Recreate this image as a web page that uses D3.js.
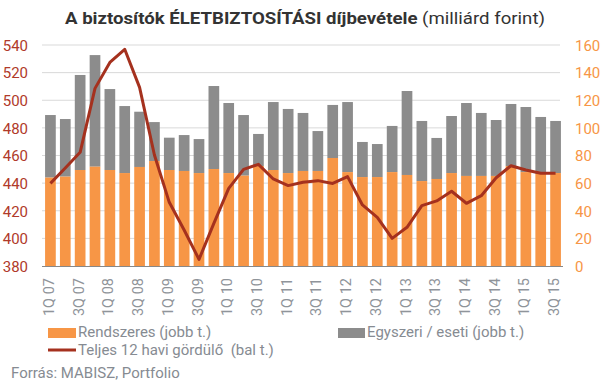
<!DOCTYPE html>
<html><head><meta charset="utf-8">
<script src="https://cdn.jsdelivr.net/npm/d3@7"></script>
<style>
body{margin:0;background:#fff;}
text{font-family:Roboto,"Liberation Sans",sans-serif;}
</style></head>
<body><svg id="c" width="607" height="383"></svg>
<script>
const quarters = ["1Q 07","2Q 07","3Q 07","4Q 07","1Q 08","2Q 08","3Q 08","4Q 08","1Q 09","2Q 09","3Q 09","4Q 09",
"1Q 10","2Q 10","3Q 10","4Q 10","1Q 11","2Q 11","3Q 11","4Q 11","1Q 12","2Q 12","3Q 12","4Q 12",
"1Q 13","2Q 13","3Q 13","4Q 13","1Q 14","2Q 14","3Q 14","4Q 14","1Q 15","2Q 15","3Q 15"];
const rendszeres = [64.0,64.7,69.5,71.9,69.5,67.3,71.7,76.0,69.5,68.8,67.3,70.2,
67.3,65.4,72.4,69.5,67.3,68.8,68.8,78.2,68.0,64.4,64.4,68.0,
65.9,61.5,63.0,67.3,65.2,65.2,65.2,72.4,68.0,66.6,67.3];
const osszes = [109.3,106.4,138.3,152.7,128.1,115.8,111.7,104.2,92.9,94.8,91.9,130.3,
118.0,109.3,95.6,118.7,113.7,110.8,97.7,116.6,118.7,89.8,88.3,101.4,
126.7,105.0,92.7,108.6,118.0,110.8,105.7,117.3,115.1,107.9,105.0];
const egyszeri = osszes.map((v,i)=>+(v-rendszeres[i]).toFixed(1));
const teljes = [439.8,451,462.3,508.6,527.4,536.9,509.3,460.4,426.1,406.1,384.8,410.9,
436.2,450.0,453.6,443.0,438.2,440.6,441.8,439.8,444.7,424.2,415.2,400.0,
408.0,423.7,427.1,434.1,425.4,430.9,443.9,452.6,449.5,447.1,447.1];
const leftTicks = [380,400,420,440,460,480,500,520,540];
const rightTicks = [0,20,40,60,80,100,120,140,160];
const xTickLabels = quarters.filter((q,i)=>i%2===0);

const C_OR = "#f79646", C_GR = "#8c8c8c", C_LINE = "#a5311e", C_LEFT = "#b03a2a", C_TXT = "#868b92";

const svg = d3.select("#c");
const x = d3.scaleBand().domain(quarters).range([43,563]).paddingInner(0.28).paddingOuter(0.14);
const yL = d3.scaleLinear().domain([380,540]).range([266,45]);
const yR = d3.scaleLinear().domain([0,160]).range([266,45]);

// grid
svg.append("g").selectAll("line").data(leftTicks.slice(1)).join("line")
  .attr("x1",42).attr("x2",560).attr("y1",d=>yL(d)).attr("y2",d=>yL(d))
  .attr("stroke","#d9d9d9").attr("stroke-width",1);

// bars
const data = quarters.map((q,i)=>({q, r:rendszeres[i], e:egyszeri[i]}));
svg.append("g").selectAll("rect").data(data).join("rect")
  .attr("x",d=>x(d.q)).attr("width",x.bandwidth())
  .attr("y",d=>yR(d.r+d.e)).attr("height",d=>yR(d.r)-yR(d.r+d.e)).attr("fill",C_GR);
svg.append("g").selectAll("rect").data(data).join("rect")
  .attr("x",d=>x(d.q)).attr("width",x.bandwidth())
  .attr("y",d=>yR(d.r)).attr("height",d=>yR(0)-yR(d.r)).attr("fill",C_OR);

// x axis line
svg.append("line").attr("x1",42).attr("x2",563).attr("y1",266.5).attr("y2",266.5)
  .attr("stroke","#888").attr("stroke-width",1);

// line
const line = d3.line().x((d,i)=>x(quarters[i])+x.bandwidth()/2).y(d=>yL(d));
svg.append("path").datum(teljes).attr("d",line).attr("fill","none")
  .attr("stroke",C_LINE).attr("stroke-width",3).attr("stroke-linejoin","round");

// left axis
const axL = d3.axisLeft(yL).tickValues(leftTicks).tickSize(0).tickPadding(0);
const gL = svg.append("g").attr("transform","translate(28,0)").call(axL);
gL.select(".domain").remove();
gL.selectAll("text").attr("fill",C_LEFT).style("font-size","15px").attr("dy","0.35em").style("font-family","Roboto");
// right axis
const axR = d3.axisRight(yR).tickValues(rightTicks).tickSize(0).tickPadding(0);
const gR = svg.append("g").attr("transform","translate(575,0)").call(axR);
gR.select(".domain").remove();
gR.selectAll("text").attr("fill",C_OR).style("font-size","15px").attr("dy","0.35em").style("font-family","Roboto");

// x labels
svg.append("g").selectAll("text").data(xTickLabels).join("text")
  .attr("transform",d=>`translate(${x(d)+x.bandwidth()/2+3.5},278) rotate(-90)`)
  .attr("text-anchor","end").attr("fill","#8f949a").style("font-size","14.5px").text(d=>d);

// title
const t = svg.append("text").attr("x",65).attr("y",24).attr("fill","#333").style("font-size","17px")
  .attr("textLength",480).attr("lengthAdjust","spacingAndGlyphs");
t.append("tspan").attr("font-weight","bold").text("A biztosítók ÉLETBIZTOSÍTÁSI díjbevétele");
t.append("tspan").text(" (milliárd forint)");

// legend
svg.append("rect").attr("x",48).attr("y",328).attr("width",28).attr("height",10).attr("fill",C_OR);
svg.append("text").attr("x",78).attr("y",337).attr("fill",C_TXT).style("font-size","15px").text("Rendszeres (jobb t.)");
svg.append("rect").attr("x",338).attr("y",328).attr("width",27).attr("height",10).attr("fill",C_GR);
svg.append("text").attr("x",367).attr("y",337).attr("fill",C_TXT).style("font-size","15px").text("Egyszeri / eseti (jobb t.)");
svg.append("line").attr("x1",48).attr("x2",76).attr("y1",350).attr("y2",350).attr("stroke",C_LINE).attr("stroke-width",3);
svg.append("text").attr("x",78).attr("y",355).attr("fill",C_TXT).style("font-size","15px").text("Teljes 12 havi gördülő  (bal t.)").attr("xml:space","preserve");
svg.append("text").attr("x",11).attr("y",378).attr("fill",C_TXT).style("font-size","15px").text("Forrás: MABISZ, Portfolio");
</script></body></html>
